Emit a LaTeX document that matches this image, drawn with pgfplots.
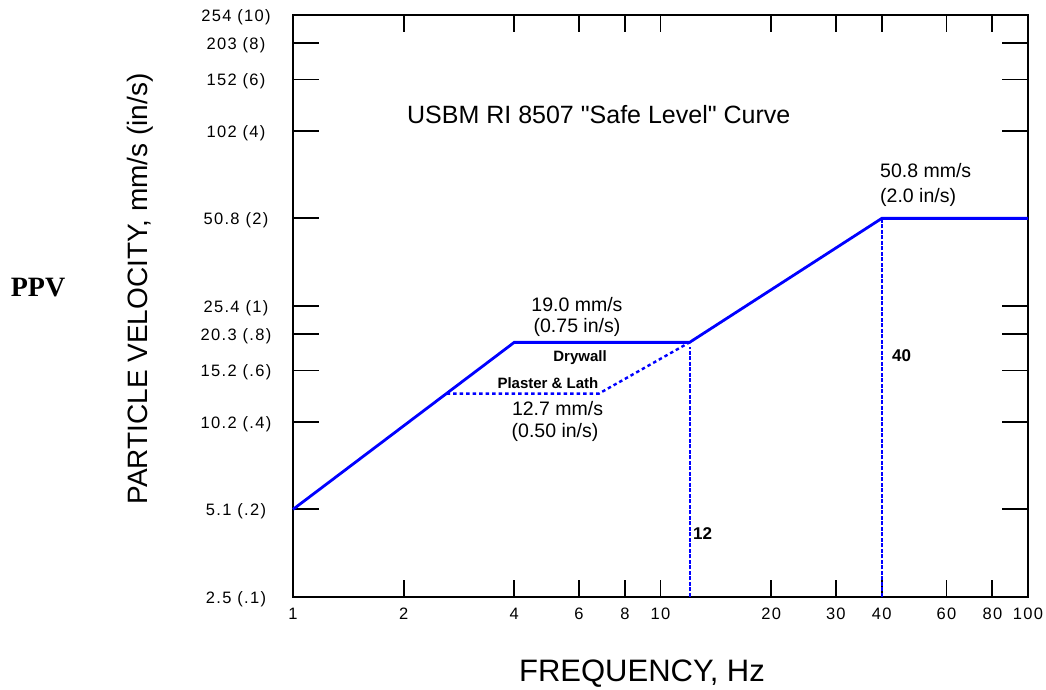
\documentclass[border=0pt]{standalone}
\usepackage{fontspec}
\setmainfont{Liberation Sans}
\newfontfamily\ppvfont{Liberation Serif}
\newfontfamily\tickfont[LetterSpace=8]{Liberation Sans}
\usepackage{pgfplots}
\pgfplotsset{compat=1.18}
\definecolor{curveblue}{RGB}{0,0,255}

\begin{document}
\begin{tikzpicture}
\useasboundingbox (-293pt,-93pt) rectangle (753pt,597pt);
\begin{axis}[
  at={(0pt,0pt)}, anchor=south west,
  scale only axis, width=735pt, height=582pt,
  xmode=log, ymode=log,
  xmin=1, xmax=100, ymin=2.54, ymax=254,
  axis line style={line width=2.6pt},
  tick align=inside,
  every tick/.style={black, line width=1.8pt},
  xtick={1,2,4,6,8,10,20,40,60,80,100},
  xticklabels={1,2,4,6,8,10,20,40,60,80,100},
  extra x ticks={30}, extra x tick labels={30},
  extra x tick style={major tick length=0pt},
  minor xtick={}, minor ytick={},
  ytick={2.54,5.08,10.16,15.24,20.32,25.4,50.8,101.6,152.4,203.2,254},
  yticklabels={2.5 (.1),5.1 (.2),10.2 (.4),15.2 (.6),20.3 (.8),25.4 (1),50.8 (2),102 (4),152 (6),203 (8),254 (10)},
  xtick style={/pgfplots/major tick length=17pt},
  ytick style={/pgfplots/major tick length=26pt},
  tick label style={font=\tickfont\fontsize{16.5}{19}\selectfont},
  yticklabel style={anchor=center, xshift=-57pt, yshift=-2pt},
  xticklabel style={anchor=center, yshift=-17pt},
  clip=false,
]
% Drywall curve
\addplot[curveblue, line width=2.8pt] coordinates {
  (1,5.08) (4,19.05) (12,19.05) (40,50.8) (100,50.8)
};
% Plaster & Lath
\addplot[curveblue, line width=2.4pt, dash pattern=on 3.5pt off 3pt] coordinates {
  (2.62,12.7) (6.8,12.7) (12,19.05)
};
% frequency markers
\addplot[curveblue, line width=2pt, dash pattern=on 4pt off 1.5pt] coordinates {
  (12,2.54) (12,18.3)
};
\addplot[curveblue, line width=2pt, dash pattern=on 4pt off 1.5pt] coordinates {
  (40,2.54) (40,50.8)
};

\node[anchor=base, font=\fontsize{25}{30}\selectfont] at (axis description cs:0.416,0.8144) {USBM RI 8507 \textquotedbl Safe Level\textquotedbl\ Curve};
\node[anchor=base, font=\fontsize{19.5}{22}\selectfont] at (axis description cs:0.3864,0.4897) {19.0 mm/s};
\node[anchor=base, font=\fontsize{19.5}{22}\selectfont] at (axis description cs:0.3864,0.4536) {(0.75 in/s)};
\node[anchor=base west, font=\fontsize{19.5}{22}\selectfont, inner sep=0pt] at (axis description cs:0.7986,0.7201) {50.8 mm/s};
\node[anchor=base west, font=\fontsize{19.5}{22}\selectfont, inner sep=0pt] at (axis description cs:0.7986,0.6770) {(2.0 in/s)};
\node[anchor=base, font=\bfseries\fontsize{15}{18}\selectfont] at (axis description cs:0.3905,0.4038) {Drywall};
\node[anchor=base, font=\bfseries\fontsize{15}{18}\selectfont] at (axis description cs:0.3469,0.3574) {Plaster \& Lath};
\node[anchor=base, font=\fontsize{19.5}{22}\selectfont] at (axis description cs:0.3599,0.3127) {12.7 mm/s};
\node[anchor=base, font=\fontsize{19.5}{22}\selectfont] at (axis description cs:0.3565,0.2749) {(0.50 in/s)};
\node[anchor=base west, font=\bfseries\fontsize{17}{20}\selectfont, inner sep=0pt] at (axis description cs:0.5442,0.0996) {12};
\node[anchor=base west, font=\bfseries\fontsize{17}{20}\selectfont, inner sep=0pt] at (axis description cs:0.8150,0.4038) {40};

\node[anchor=base, font=\fontsize{31}{36}\selectfont] at (axis description cs:0.4748,-0.1460) {FREQUENCY, Hz};
\node[anchor=base, rotate=90, font=\fontsize{28}{32}\selectfont] at (axis description cs:-0.1986,0.5292) {PARTICLE VELOCITY, mm/s (in/s)};
\node[anchor=base, font=\ppvfont\bfseries\fontsize{28}{32}\selectfont] at (axis description cs:-0.3469,0.5155) {PPV};
\end{axis}
\end{tikzpicture}
\end{document}
